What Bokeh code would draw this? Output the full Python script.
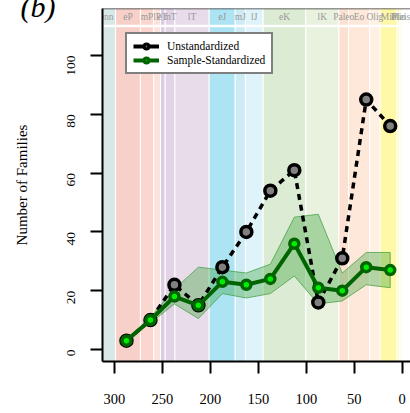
import math
from bokeh.plotting import figure
from bokeh.models import Range1d, FixedTicker, Legend, LegendItem, Span
from bokeh.core.properties import value
from bokeh.embed import file_html
from bokeh.resources import INLINE

# Geological intervals (Ma) shown as background bands
int_names = ["Penn", "eP", "mP", "lP", "eT", "mT", "lT", "eJ", "mJ", "lJ",
             "eK", "lK", "Paleo", "Eo", "Olig", "Mio", "Plio", "Pleis"]
int_start = [323.2, 298.9, 272.95, 259.1, 251.9, 247.2, 237.0, 201.3, 174.1, 163.5,
             145.0, 100.5, 66.0, 56.0, 33.9, 23.03, 5.333, 2.58]
int_end = [298.9, 272.95, 259.1, 251.9, 247.2, 237.0, 201.3, 174.1, 163.5, 145.0,
           100.5, 66.0, 56.0, 33.9, 23.03, 5.333, 2.58, 0.0117]
int_colors = ["#d8e8e7", "#f8d0ca", "#fad6cf", "#fce2dc", "#dccbe0", "#e2d3e6", "#e8dcea",
              "#ace4f4", "#cdebf4", "#dff3fa", "#dcebd4", "#e9f2df", "#fce1d2", "#fde8da",
              "#fef1e3", "#fff8a6", "#fffbc8", "#fffde6"]
int_mid = [(a + b) / 2 for a, b in zip(int_start, int_end)]

# Family counts per 25 Myr bin
bin_mid = [287.5, 262.5, 237.5, 212.5, 187.5, 162.5, 137.5, 112.5, 87.5, 62.5, 37.5, 12.5]
unstandardized = [3, 10, 22, 15, 28, 40, 54, 61, 16, 31, 85, 76]
standardized = [3, 10, 18, 15, 23, 22, 24, 36, 21, 20, 28, 27]

# Envelope around the sample-standardized curve
env_mid = bin_mid[1:]
env_upper = [11, 20.5, 28, 27, 26, 29, 45, 46, 26, 33, 33]
env_lower = [9, 15.5, 10.5, 19, 17.5, 19, 25, 15.5, 16.5, 22, 21]

x_ticks = [300, 250, 200, 150, 100, 50, 0]
y_ticks = [0, 20, 40, 60, 80, 100]

SERIF = "Liberation Serif"
NAN = float("nan")

p = figure(width=410, height=413, output_backend="svg", toolbar_location=None,
           x_range=Range1d(312.5, -8.65), y_range=Range1d(-4.1, 116),
           min_border_left=102, min_border_right=0, min_border_top=8, min_border_bottom=52)
p.outline_line_color = None
p.grid.visible = False
p.background_fill_color = "white"

# panel letter, sitting in the top margin and running off the page edge
p.title.text = "(b)"
p.title.align = "left"
p.title.offset = -82
p.title.vertical_align = "top"
p.title.standoff = -38
p.title.text_font = SERIF
p.title.text_font_style = "italic"
p.title.text_font_size = "30px"
p.title.text_color = "black"

# background interval bands and the header strip
p.quad(left=int_start, right=int_end, bottom=-10, top=109.8,
       fill_color=int_colors, line_color="white", line_width=1)
p.quad(left=int_start, right=int_end, bottom=110.3, top=125,
       fill_color=int_colors, line_color="white", line_width=1)
p.text(x=int_mid, y=113.2, text=int_names, text_font=value(SERIF),
       text_font_size="9.5px", text_color="#999999", text_align="center",
       text_baseline="middle")

# envelope
p.patch(x=env_mid + env_mid[::-1], y=env_upper + env_lower[::-1],
        fill_color="#2f9f2f", fill_alpha=0.35, line_color="#3a9a3a",
        line_alpha=0.7, line_width=1)

# unstandardized series
p.line(bin_mid, unstandardized, line_color="black", line_width=3.5, line_dash="6 5")
p.scatter(bin_mid, unstandardized, marker="circle", size=11, fill_color="#808080",
          line_color="black", line_width=3.5)

# sample-standardized series
p.line(bin_mid, standardized, line_color="#006400", line_width=4)
p.scatter(bin_mid, standardized, marker="circle", size=9, fill_color="#00ee00",
          line_color="#006400", line_width=3.5)

# legend swatches (solid lines with markers)
lg_bl = p.line([NAN], [NAN], line_color="black", line_width=4)
lg_bs = p.scatter([NAN], [NAN], marker="circle", size=6, fill_color="#606060",
                  line_color="black", line_width=3)
lg_gl = p.line([NAN], [NAN], line_color="#006400", line_width=4)
lg_gs = p.scatter([NAN], [NAN], marker="circle", size=6, fill_color="#00aa00",
                  line_color="#006400", line_width=3)
legend = Legend(items=[LegendItem(label="Unstandardized", renderers=[lg_bl, lg_bs]),
                       LegendItem(label="Sample-Standardized", renderers=[lg_gl, lg_gs])],
                location=(23, 287), label_text_font=SERIF, label_text_font_size="11.5px",
                label_text_color="black", glyph_width=26, glyph_height=12,
                label_height=12, label_standoff=8, spacing=2, padding=6, margin=0,
                border_line_color="black", border_line_width=2,
                background_fill_color="white", background_fill_alpha=1)
p.add_layout(legend, "center")

# axes
xa = p.xaxis[0]
xa.ticker = FixedTicker(ticks=x_ticks)
ya = p.yaxis[0]
ya.ticker = FixedTicker(ticks=y_ticks)
ya.major_label_orientation = math.pi / 2
ya.axis_label = "Number of Families"
for ax in (xa, ya):
    ax.major_tick_out = 12
    ax.major_tick_in = 0
    ax.minor_tick_out = 0
    ax.minor_tick_in = 0
    ax.major_tick_line_width = 2
    ax.axis_line_width = 2
    ax.major_label_text_font = SERIF
    ax.major_label_text_color = "black"
xa.major_label_text_font_size = "14.5px"
xa.major_label_standoff = 20
ya.major_label_text_font_size = "13.5px"
ya.major_label_standoff = 19
ya.axis_label_text_font = SERIF
ya.axis_label_text_font_style = "normal"
ya.axis_label_text_font_size = "15px"
ya.axis_label_text_color = "black"
ya.axis_label_standoff = 31

# top edge of the plot box
p.add_layout(Span(location=116, dimension="width", line_color="#333333", line_width=1.5))

open("out.html", "w").write(file_html(p, INLINE))
